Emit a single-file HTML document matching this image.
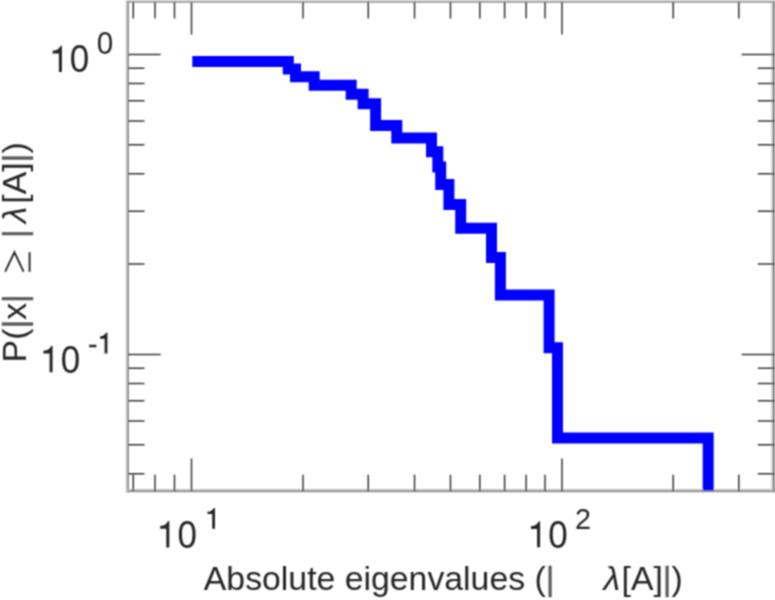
<!DOCTYPE html>
<html><head><meta charset="utf-8"><style>
html,body{margin:0;padding:0;background:#fff;overflow:hidden}
svg{display:block}
text{font-family:"Liberation Sans",sans-serif;fill:#262626}
</style></head><body>
<svg width="775" height="600" viewBox="0 0 775 600">
<defs><filter id="bl" x="-2%" y="-2%" width="104%" height="104%"><feConvolveMatrix order="3" kernelMatrix="1 2 1 2 4 2 1 2 1" divisor="16" edgeMode="none"/></filter><clipPath id="c"><rect x="128.1" y="2.0" width="646.1" height="488.6"/></clipPath></defs>
<rect x="0" y="0" width="775" height="600" fill="#fff"/>
<g filter="url(#bl)">
<rect x="125.6" y="0" width="1.6" height="493" fill="#d0d0d0"/>
<rect x="127.2" y="1.2" width="1.8" height="491" fill="#8e8e8e"/>
<rect x="127.2" y="489.0" width="648" height="1.4" fill="#c2c2c2"/>
<rect x="127.2" y="490.4" width="648" height="1.8" fill="#8b8b8b"/>
<rect x="771.3" y="0" width="1.5" height="491" fill="#c8c8c8"/>
<rect x="772.8" y="0" width="2.2" height="492.2" fill="#858585"/>
<rect x="125.6" y="0" width="650" height="1.2" fill="#cdcdcd"/>
<rect x="127.2" y="1.2" width="648" height="1.6" fill="#999999"/>
<path d="M133.30 491.1V474.70M133.30 2.0V18.40M155.00 491.1V474.70M155.00 2.0V18.40M174.50 491.1V474.70M174.50 2.0V18.40M191.50 491.1V458.50M191.50 2.0V34.60M303.03 491.1V474.70M303.03 2.0V18.40M368.27 491.1V474.70M368.27 2.0V18.40M414.56 491.1V474.70M414.56 2.0V18.40M450.47 491.1V474.70M450.47 2.0V18.40M479.81 491.1V474.70M479.81 2.0V18.40M504.61 491.1V474.70M504.61 2.0V18.40M526.09 491.1V474.70M526.09 2.0V18.40M545.05 491.1V474.70M545.05 2.0V18.40M562.00 491.1V458.50M562.00 2.0V34.60M673.20 491.1V474.70M673.20 2.0V18.40M738.77 491.1V474.70M738.77 2.0V18.40M128.1 473.78H144.50M774.2 473.78H757.80M128.1 444.71H144.50M774.2 444.71H757.80M128.1 420.95H144.50M774.2 420.95H757.80M128.1 400.87H144.50M774.2 400.87H757.80M128.1 383.47H144.50M774.2 383.47H757.80M128.1 368.13H144.50M774.2 368.13H757.80M128.1 354.40H160.70M774.2 354.40H741.60M128.1 264.09H144.50M774.2 264.09H757.80M128.1 211.26H144.50M774.2 211.26H757.80M128.1 173.78H144.50M774.2 173.78H757.80M128.1 144.71H144.50M774.2 144.71H757.80M128.1 120.95H144.50M774.2 120.95H757.80M128.1 100.87H144.50M774.2 100.87H757.80M128.1 83.47H144.50M774.2 83.47H757.80M128.1 68.13H144.50M774.2 68.13H757.80M128.1 54.40H160.70M774.2 54.40H741.60" stroke="#383838" stroke-width="1.5" fill="none"/>
<path d="M192.3 61.44H288.30V68.89H295.50V76.79H314.20V85.20H351.20V94.19H363.10V103.84H375.60V125.61H396.80V138.03H431.50V151.75H437.80V167.10H440.70V184.50H448.90V204.58H460.70V228.34H491.50V257.41H500.40V294.89H549.10V347.72H557.50V438.03H708.20V501.10" stroke="#0000ff" stroke-width="11" fill="none" stroke-linejoin="miter" stroke-linecap="butt" clip-path="url(#c)"/>
<path d="M61.90 45.80V72.00H58.90V53.53H52.60V50.78C57.70 50.52 58.80 48.42 60.90 45.80ZM52.60 345.80V372.20H49.60V353.59H43.40V350.82C48.40 350.55 49.50 348.44 51.60 345.80ZM107.40 332.40V353.60H104.60V338.65H100.00V336.43C103.40 336.22 104.50 334.52 106.40 332.40ZM169.30 521.10V547.40H166.30V528.86H160.20V526.10C165.10 525.83 166.20 523.73 168.30 521.10ZM215.00 507.90V528.80H212.20V514.07H207.40V511.87C211.00 511.66 212.10 509.99 214.00 507.90ZM540.10 521.20V547.30H537.10V528.90H530.90V526.16C535.90 525.90 537.00 523.81 539.10 521.20ZM89.2 344.7H96.4V347.3H89.2Z" fill="#262626"/>
<g text-anchor="middle">
<text transform="translate(79.6 72.2) scale(0.89 1)" font-size="39.3">0</text>
<text transform="translate(104.9 54.3) scale(0.95 1)" font-size="31.2">0</text>
<text transform="translate(70.5 372.7) scale(0.89 1)" font-size="39.3">0</text>
<text transform="translate(187.2 547.9) scale(0.89 1)" font-size="39.3">0</text>
<text transform="translate(557.9 547.7) scale(0.89 1)" font-size="39.3">0</text>
<text transform="translate(582.9 529.0) scale(0.95 1)" font-size="30.4">2</text>
</g>
<text x="203.8" y="590.2" font-size="33.8">Absolute eigenvalues (<tspan fill="#5c5c5c" stroke="#5c5c5c" stroke-width="0.35">|</tspan></text>
<text x="603.5" y="590.2" font-size="33.8" font-style="italic">λ</text>
<text x="621.5" y="590.2" font-size="33.8">[A]<tspan fill="#5c5c5c" stroke="#5c5c5c" stroke-width="0.35">|</tspan>)</text>
<g transform="translate(26.2,362.4) rotate(-90)">
<text x="0" y="0" font-size="33.8">P(<tspan fill="#5c5c5c" stroke="#5c5c5c" stroke-width="0.35">|</tspan>x<tspan fill="#5c5c5c" stroke="#5c5c5c" stroke-width="0.35">|</tspan></text>
<text x="124.4" y="0" font-size="33.8"><tspan fill="#5c5c5c" stroke="#5c5c5c" stroke-width="0.35">|</tspan></text>
<text x="139.2" y="0" font-size="33.8" font-style="italic">λ</text>
<text x="158.7" y="0" font-size="33.8">[A]<tspan fill="#5c5c5c" stroke="#5c5c5c" stroke-width="0.35">|</tspan>)</text>
</g>
<path d="M5.2 271.6L14.4 252.3L23.6 271.6M29.6 252.2V271.8" stroke="#262626" stroke-width="1.9" fill="none" stroke-linejoin="miter"/>
</g>
</svg>
</body></html>
